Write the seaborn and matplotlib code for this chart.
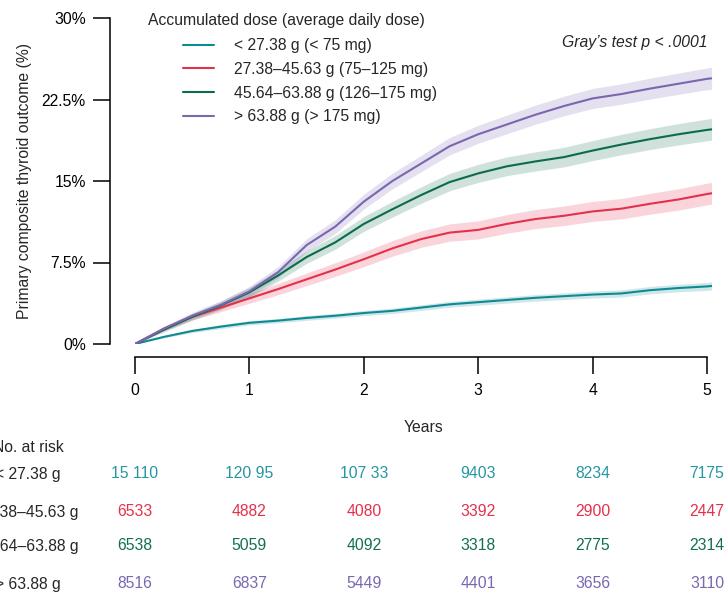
import numpy as np
import pandas as pd
import matplotlib
matplotlib.use("Agg")
import matplotlib.pyplot as plt
import matplotlib.transforms as mtransforms
from matplotlib.lines import Line2D
import seaborn as sns

# ---------------- data ----------------
years = [0, 0.25, 0.5, 0.75, 1.0, 1.25, 1.5, 1.75, 2.0, 2.25, 2.5, 2.75,
         3.0, 3.25, 3.5, 3.75, 4.0, 4.25, 4.5, 4.75, 5.0, 5.04]

dose_lt_27 = [0, 0.65, 1.2, 1.6, 1.95, 2.15, 2.4, 2.6, 2.85, 3.05, 3.35, 3.65,
              3.85, 4.05, 4.25, 4.4, 4.55, 4.65, 4.95, 5.15, 5.3, 5.34]
dose_27_45 = [0, 1.4, 2.5, 3.35, 4.2, 5.05, 5.95, 6.85, 7.8, 8.8, 9.65, 10.25,
              10.5, 11.05, 11.5, 11.8, 12.2, 12.45, 12.9, 13.3, 13.8, 13.87]
dose_45_63 = [0, 1.3, 2.5, 3.55, 4.75, 6.3, 8.0, 9.35, 11.05, 12.4, 13.7, 14.9,
              15.7, 16.35, 16.8, 17.2, 17.8, 18.35, 18.85, 19.3, 19.7, 19.75]
dose_gt_63 = [0, 1.4, 2.6, 3.6, 4.85, 6.6, 9.1, 10.8, 13.1, 15.0, 16.6, 18.2,
              19.3, 20.2, 21.1, 21.9, 22.6, 23.0, 23.5, 23.95, 24.4, 24.45]

ci_half_low_group = [0, 0.1, 0.15, 0.18, 0.2, 0.2, 0.22, 0.22, 0.24, 0.25, 0.26, 0.27,
                     0.28, 0.29, 0.3, 0.31, 0.32, 0.33, 0.34, 0.35, 0.37, 0.37]
ci_half_other = [0, 0.2, 0.3, 0.38, 0.45, 0.52, 0.58, 0.63, 0.68, 0.72, 0.76, 0.8,
                 0.83, 0.86, 0.88, 0.9, 0.92, 0.94, 0.96, 0.98, 1.0, 1.0]

groups = ["< 27.38 g (< 75 mg)", "27.38\u201345.63 g (75\u2013125 mg)",
          "45.64\u201363.88 g (126\u2013175 mg)", "> 63.88 g (> 175 mg)"]
row_labels = ["< 27.38 g", "27.38\u201345.63 g", "45.64\u201363.88 g", "> 63.88 g"]
risk_years = [0, 1, 2, 3, 4, 5]
risk_lt_27 = ["15 110", "120 95", "107 33", "9403", "8234", "7175"]
risk_27_45 = ["6533", "4882", "4080", "3392", "2900", "2447"]
risk_45_63 = ["6538", "5059", "4092", "3318", "2775", "2314"]
risk_gt_63 = ["8516", "6837", "5449", "4401", "3656", "3110"]

y_ticks = [0, 7.5, 15, 22.5, 30]
y_ticklabels = ["0%", "7.5%", "15%", "22.5%", "30%"]
x_ticks = [0, 1, 2, 3, 4, 5]

colors = ["#0f8a93", "#e5304c", "#0b6b4a", "#7a67b0"]
text_colors = ["#2596a3", "#e5304c", "#13704f", "#7a67b0"]

# ---------------- style ----------------
FS = 11.3
sns.set_style("ticks")
plt.rcParams["font.family"] = ["Liberation Sans", "DejaVu Sans"]
plt.rcParams["font.size"] = FS

W, H = 726, 596
fig = plt.figure(figsize=(W / 100, H / 100), dpi=100)
ax = fig.add_axes([135 / W, (H - 344) / H, (5.04 * 114.4) / W, 326 / H])

series = [dose_lt_27, dose_27_45, dose_45_63, dose_gt_63]
halfs = [ci_half_low_group, ci_half_other, ci_half_other, ci_half_other]

frames = []
for g, vals in zip(groups, series):
    frames.append(pd.DataFrame({"Years": years, "Incidence": vals, "Group": g}))
df = pd.concat(frames, ignore_index=True)

for vals, h, c in zip(series, halfs, colors):
    v = np.array(vals)
    hh = np.array(h)
    ax.fill_between(years, v - hh, v + hh, color=c, alpha=0.2, linewidth=0)

sns.lineplot(data=df, x="Years", y="Incidence", hue="Group", hue_order=groups,
             palette=dict(zip(groups, colors)), linewidth=1.5, legend=False,
             estimator=None, ax=ax)

ax.set_xlim(0, 5.04)
ax.set_ylim(0, 30)
ax.set_xticks(x_ticks)
ax.set_xticklabels([str(t) for t in x_ticks])
ax.set_yticks(y_ticks)
ax.set_yticklabels(y_ticklabels)

for s in ["top", "right"]:
    ax.spines[s].set_visible(False)
ax.spines["left"].set_position(("outward", 18))
ax.spines["bottom"].set_position(("outward", 9.4))
ax.spines["left"].set_bounds(0, 30)
ax.spines["bottom"].set_bounds(0, 5)
for s in ["left", "bottom"]:
    ax.spines[s].set_linewidth(1.1)
    ax.spines[s].set_color("black")
ax.tick_params(axis="both", direction="out", length=12.5, width=1.1,
               colors="black", labelsize=FS)
ax.tick_params(axis="y", pad=5)
ax.tick_params(axis="x", pad=6)

ax.set_xlabel("Years", fontsize=FS, labelpad=16)
ax.set_ylabel("Primary composite thyroid outcome (%)", fontsize=FS, labelpad=7)

# Legend
fig.text(148 / W, 1 - 21 / H, "Accumulated dose (average daily dose)",
         ha="left", va="center", fontsize=FS)
handles = [Line2D([0], [0], color=c, lw=1.5) for c in colors]
fig.legend(handles, groups, loc="upper left",
           bbox_to_anchor=(183 / W, 1 - 38 / H), frameon=False,
           fontsize=FS, handlelength=2.0, handletextpad=1.25,
           labelspacing=0.56, borderpad=0, borderaxespad=0)

fig.text(707 / W, 1 - 42 / H, "Gray\u2019s test p < .0001", ha="right",
         va="center", fontsize=FS, style="italic")

# Number at risk table
trans = mtransforms.blended_transform_factory(ax.transData, fig.transFigure)
fig.text(28 / W, 1 - 448 / H, "No. at risk", ha="center", va="center", fontsize=FS)
row_y = [474, 512, 546, 584]
risks = [risk_lt_27, risk_27_45, risk_45_63, risk_gt_63]
for lab, ry, vals, tc in zip(row_labels, row_y, risks, text_colors):
    fig.text(28 / W, 1 - ry / H, lab, ha="center", va="center", fontsize=FS)
    for xv, val in zip(risk_years, vals):
        ax.text(xv, 1 - ry / H, val, transform=trans, ha="center",
                va="center", fontsize=FS, color=tc, clip_on=False)

fig.savefig("out.png", dpi=100)
